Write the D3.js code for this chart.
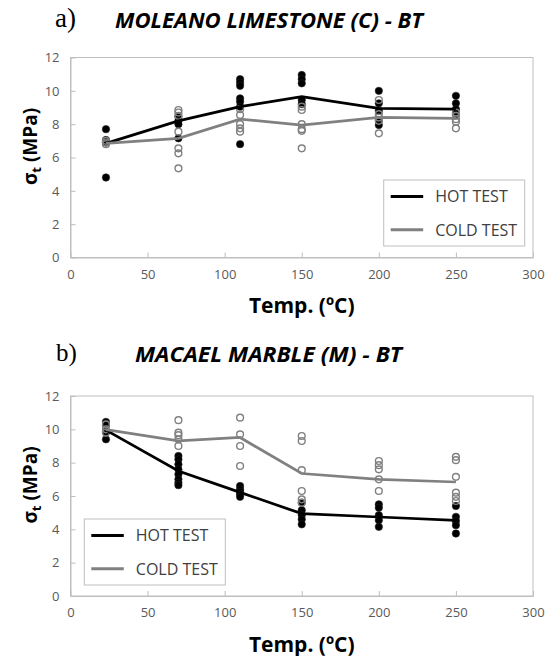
<!DOCTYPE html>
<html>
<head>
<meta charset="utf-8">
<script src="https://cdn.jsdelivr.net/npm/d3@7"></script>
<style>
  body { margin: 0; background: #fff; }
  svg { display: block; font-family: "Open Sans", sans-serif; }
</style>
</head>
<body>
<div id="chart"></div>
<script>
// temperatures (ºC) of each test group
const temps = [23, 70, 110, 150, 200, 250];
const xTicks = [0, 50, 100, 150, 200, 250, 300];
const yTicks = [0, 2, 4, 6, 8, 10, 12];
const legendNames = ["HOT TEST", "COLD TEST"];

// a) Moleano limestone
const moleanoHotMean = [6.85, 8.2, 9.05, 9.65, 8.95, 8.9];
const moleanoColdMean = [6.85, 7.15, 8.3, 7.95, 8.4, 8.35];
const moleanoHotPts = [
  [7.7, 7.05, 6.9, 4.8],
  [8.45, 8.2, 8.0, 7.15],
  [10.7, 10.5, 10.3, 9.55, 9.35, 9.05, 6.8],
  [10.95, 10.7, 10.45, 9.45, 9.2],
  [10.0, 9.25, 8.8, 8.25, 7.95],
  [9.7, 9.25, 8.9, 8.6]
];
const moleanoColdPts = [
  [7.0, 6.9, 6.8],
  [8.85, 8.7, 8.5, 7.55, 6.55, 6.25, 5.35],
  [8.9, 8.55, 8.0, 7.75, 7.55],
  [9.05, 8.85, 8.0, 7.7, 7.6, 6.55],
  [9.45, 8.6, 8.4, 8.2, 7.45],
  [8.7, 8.5, 8.3, 8.15, 7.75]
];

// b) Macael marble
const macaelHotMean = [9.95, 7.5, 6.22, 4.94, 4.74, 4.54];
const macaelColdMean = [9.98, 9.31, 9.51, 7.35, 7.0, 6.84];
const macaelHotPts = [
  [10.45, 10.25, 9.85, 9.4],
  [8.4, 8.2, 7.9, 7.6, 7.3, 7.0, 6.8, 6.65],
  [6.6, 6.4, 6.25, 6.1, 5.95],
  [5.6, 5.15, 4.85, 4.6, 4.3],
  [5.5, 5.3, 4.85, 4.55, 4.15],
  [5.4, 4.75, 4.5, 4.25, 3.75]
];
const macaelColdPts = [
  [10.3, 10.0, 9.8],
  [10.55, 9.8, 9.65, 9.4, 9.0],
  [10.7, 9.7, 9.0, 7.8],
  [9.6, 9.3, 7.55, 6.3, 5.8, 5.6],
  [8.1, 7.85, 7.6, 7.0, 6.3],
  [8.35, 8.15, 7.15, 6.2, 5.95, 5.7]
];

const width = 556, height = 656;
const hotColor = "#000000", coldColor = "#808080";
const axisGray = "#bfbfbf", labelGray = "#595959";

const svg = d3.select("#chart").append("svg")
  .attr("width", width)
  .attr("height", height);

const x = d3.scaleLinear().domain([0, 300]).range([70.5, 533]);
const plotH = 200;
const y = d3.scaleLinear().domain([0, 12]).range([plotH, 0]);

function flatten(pts) {
  let out = [];
  pts.forEach((arr, i) => arr.forEach(v => out.push({t: temps[i], v: v})));
  return out;
}

function drawPanel(cfg) {
  let g = svg.append("g").attr("transform", `translate(0,${cfg.top})`);

  // plot area border
  g.append("rect")
    .attr("x", x(0)).attr("y", 0)
    .attr("width", x(300) - x(0)).attr("height", plotH)
    .attr("fill", "none").attr("stroke", axisGray).attr("stroke-width", 1);

  // x axis, ticks pointing inward
  let xAxis = g.append("g")
    .attr("transform", `translate(0,${plotH})`)
    .call(d3.axisBottom(x).tickValues(xTicks).tickSizeInner(-5).tickSizeOuter(0).tickPadding(12));
  xAxis.select(".domain").attr("stroke", axisGray);
  xAxis.selectAll(".tick line").attr("stroke", axisGray);
  xAxis.selectAll("text").attr("fill", labelGray).style("font-size", "13px").style("font-family", "Open Sans");

  let yAxis = g.append("g")
    .attr("transform", `translate(${x(0)},0)`)
    .call(d3.axisLeft(y).tickValues(yTicks).tickSizeInner(-5).tickSizeOuter(0).tickPadding(11));
  yAxis.select(".domain").attr("stroke", axisGray);
  yAxis.selectAll(".tick line").attr("stroke", axisGray);
  yAxis.selectAll("text").attr("fill", labelGray).style("font-size", "13px").style("font-family", "Open Sans");

  // axis titles
  g.append("text")
    .attr("x", (x(0) + x(300)) / 2).attr("y", plotH + 55.5)
    .attr("text-anchor", "middle")
    .style("font-size", "21px").style("font-weight", 700)
    .text("Temp. (ºC)");

  let yt = g.append("text")
    .attr("transform", `translate(37,${plotH / 2 - 11}) rotate(-90)`)
    .attr("text-anchor", "middle")
    .style("font-size", "19px").style("font-weight", 700);
  yt.append("tspan").text("σ");
  yt.append("tspan").attr("dy", 4).style("font-size", "13px").text("t");
  yt.append("tspan").attr("dy", -4).text(" (MPa)");

  // panel title
  svg.append("text")
    .attr("x", cfg.tagX).attr("y", cfg.titleY - 1)
    .style("font-family", "Liberation Serif, serif").style("font-size", cfg.tagSize + "px")
    .text(cfg.tag);
  svg.append("text")
    .attr("x", cfg.titleX).attr("y", cfg.titleY)
    .attr("textLength", cfg.titleLen).attr("lengthAdjust", "spacingAndGlyphs")
    .style("font-size", "22px").style("font-weight", 700).style("font-style", "italic")
    .text(cfg.title);

  // points
  g.append("g").selectAll("circle")
    .data(flatten(cfg.hotPts))
    .enter().append("circle")
    .attr("cx", d => x(d.t)).attr("cy", d => y(d.v))
    .attr("r", 3.7)
    .attr("fill", hotColor).attr("stroke", "#222").attr("stroke-width", 0.6);

  g.append("g").selectAll("circle")
    .data(flatten(cfg.coldPts))
    .enter().append("circle")
    .attr("cx", d => x(d.t)).attr("cy", d => y(d.v))
    .attr("r", 3.4)
    .attr("fill", "none").attr("stroke", coldColor).attr("stroke-width", 1.4);

  // mean lines
  let line = d3.line().x((d, i) => x(temps[i])).y(d => y(d));
  g.append("path").datum(cfg.hotMean)
    .attr("d", line).attr("fill", "none")
    .attr("stroke", hotColor).attr("stroke-width", 2.75);
  g.append("path").datum(cfg.coldMean)
    .attr("d", line).attr("fill", "none")
    .attr("stroke", coldColor).attr("stroke-width", 2.75);

  // legend
  let lg = g.append("g").attr("transform", `translate(${cfg.legX},${cfg.legY})`);
  lg.append("rect")
    .attr("width", 141).attr("height", 66)
    .attr("fill", "#fff").attr("stroke", axisGray).attr("stroke-width", 1);
  legendNames.forEach((name, i) => {
    let ly = 16.5 + i * 33.3;
    lg.append("line")
      .attr("x1", 7).attr("x2", 39.5).attr("y1", ly).attr("y2", ly)
      .attr("stroke", i === 0 ? hotColor : coldColor).attr("stroke-width", 3);
    lg.append("text")
      .attr("x", 51.5).attr("y", ly + 5.7)
      .attr("fill", "#404040")
      .style("font-size", "16px")
      .text(name);
  });
}

drawPanel({
  top: 57.5,
  tag: "a)", tagX: 55, tagSize: 27,
  title: "MOLEANO LIMESTONE (C) - BT", titleX: 115, titleY: 28, titleLen: 308,
  hotMean: moleanoHotMean, coldMean: moleanoColdMean,
  hotPts: moleanoHotPts, coldPts: moleanoColdPts,
  legX: 383.7, legY: 122.5
});

drawPanel({
  top: 396,
  tag: "b)", tagX: 56, tagSize: 25,
  title: "MACAEL MARBLE (M) - BT", titleX: 135, titleY: 361.5, titleLen: 267,
  hotMean: macaelHotMean, coldMean: macaelColdMean,
  hotPts: macaelHotPts, coldPts: macaelColdPts,
  legX: 84.3, legY: 123
});
</script>
</body>
</html>
